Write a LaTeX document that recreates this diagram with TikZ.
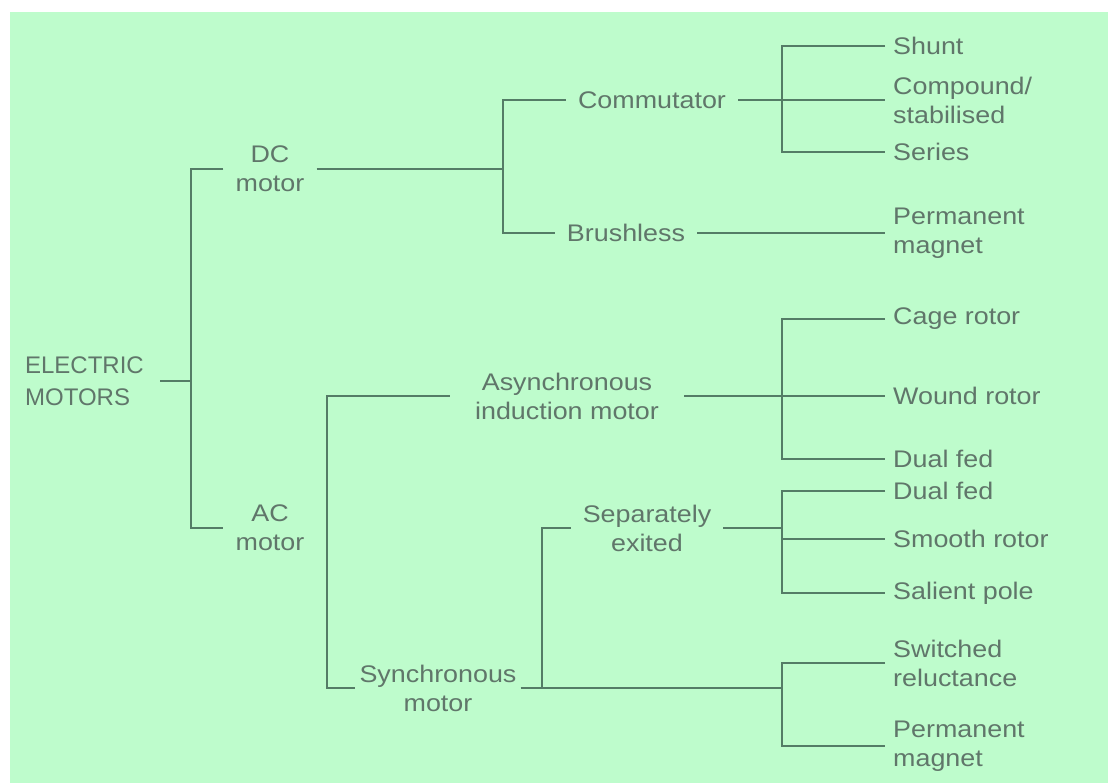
\documentclass[tikz,border=0pt]{standalone}
\usepackage{fontspec}
\setmainfont{Liberation Sans}[FakeStretch=1.12]
\newfontfamily\rootfont{Liberation Sans}

\definecolor{bggreen}{RGB}{190,252,204}
\definecolor{linegreen}{RGB}{84,124,102}
\definecolor{textgrey}{RGB}{96,118,106}

\begin{document}
\begin{tikzpicture}[x=1pt, y=-1pt,
  every node/.style={font=\fontsize{24}{29}\selectfont, text=textgrey},
  branch/.style={align=center, inner xsep=12pt, inner ysep=0pt},
  leaf/.style={anchor=west, align=left, inner xsep=8pt, inner ysep=0pt},
  wire/.style={draw=linegreen, line width=1.3pt}]

% Background
\useasboundingbox (0,0) rectangle (1108,783);
\fill[bggreen] (10,12) rectangle (1108,783);

% Root and main branches
\node[anchor=east, align=left, inner xsep=16pt, font=\rootfont\fontsize{24}{32}\selectfont] (root) at (160,381) {ELECTRIC\\MOTORS};
\node[branch] (dc) at (270,169) {DC\\motor};
\node[branch] (ac) at (270,528) {AC\\motor};

% DC side
\node[branch] (comm) at (652,100) {Commutator};
\node[branch] (brush) at (626,233) {Brushless};

% AC side
\node[branch, inner xsep=25pt] (async) at (567,396) {Asynchronous\\induction motor};
\node[branch, inner xsep=4pt] (sync) at (438,688) {Synchronous\\motor};
\node[branch] (sep) at (647,528) {Separately\\exited};

% Leaves
\node[leaf] (shunt) at (885,46) {Shunt};
\node[leaf] (compound) at (885,100) {Compound/\\stabilised};
\node[leaf] (series) at (885,152) {Series};
\node[leaf] (pmdc) at (885,233) {Permanent\\magnet};
\node[leaf] (cage) at (885,319) {Cage rotor};
\node[leaf] (wound) at (885,396) {Wound rotor};
\node[leaf] (dualA) at (885,459) {Dual fed};
\node[leaf] (dualB) at (885,491) {Dual fed};
\node[leaf] (smooth) at (885,539) {Smooth rotor};
\node[leaf] (salient) at (885,593) {Salient pole};
\node[leaf] (switched) at (885,663) {Switched\\reluctance};
\node[leaf] (pmsync) at (885,746) {Permanent\\magnet};

% Junctions
\coordinate (j0) at (191,381);
\coordinate (j1) at (503,169);
\coordinate (j2) at (782,100);
\coordinate (j3) at (327,528);
\coordinate (j4) at (782,396);
\coordinate (j5) at (542,688);
\coordinate (j6) at (782,528);
\coordinate (j7) at (782,688);

% Connectors
\draw[wire] (root) -- (j0);
\draw[wire] (dc) -| (j0) |- (ac);
\draw[wire] (dc) -- (j1);
\draw[wire] (comm) -| (j1) |- (brush);
\draw[wire] (comm) -- (compound);
\draw[wire] (shunt) -| (j2) |- (series);
\draw[wire] (brush) -- (pmdc);
\draw[wire] (async) -| (j3) |- (sync);
\draw[wire] (async) -- (wound);
\draw[wire] (cage) -| (j4) |- (dualA);
\draw[wire] (sync) -- (j7);
\draw[wire] (sep) -| (j5);
\draw[wire] (sep) -- (j6);
\draw[wire] (dualB) -| (j6) |- (salient);
\draw[wire] (j6 |- smooth) -- (smooth);
\draw[wire] (switched) -| (j7) |- (pmsync);

\end{tikzpicture}
\end{document}
